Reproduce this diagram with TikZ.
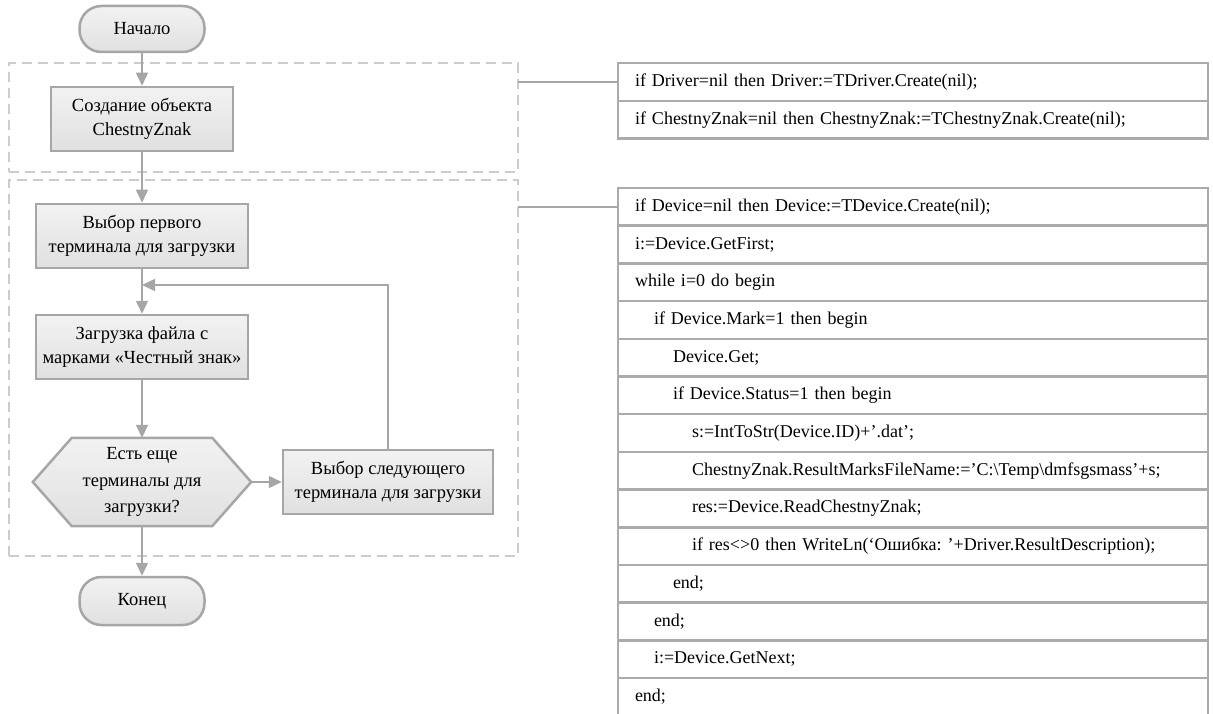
\documentclass[tikz,border=0pt]{standalone}
\usepackage{fontspec}
\setmainfont{Liberation Serif}
\usetikzlibrary{arrows.meta,shadings,backgrounds}
\frenchspacing
\definecolor{bord}{HTML}{A6A6A6}
\definecolor{dashc}{HTML}{CCCCCC}
\definecolor{tabc}{HTML}{ABABAB}
\definecolor{ftop}{HTML}{F2F2F2}
\definecolor{fbot}{HTML}{E0E0E0}
\tikzset{
  flow/.style={draw=bord, line width=2.5pt, top color=ftop, bottom color=fbot,
    font=\fontsize{18.5}{24}\selectfont, align=center, inner sep=0pt},
  procbox/.style={flow, rectangle, minimum width=#1, minimum height=64pt},
  term/.style={flow, rounded corners=22pt, minimum width=125pt, minimum height=46pt},
  dbox/.style={draw=dashc, line width=2pt, dash pattern=on 10pt off 6pt,
    minimum width=509pt, anchor=north west, inner sep=0pt, outer sep=0pt},
  arr/.style={draw=bord, line width=1.5pt, -{Triangle[length=13pt,width=12pt]}},
  conn/.style={draw=bord, line width=2pt},
  row/.style={draw=tabc, line width=2.5pt, anchor=north west, minimum height=37.7pt,
    text width=556pt, inner xsep=17pt, inner ysep=0pt, outer sep=0pt, align=left,
    font=\fontsize{18}{21}\selectfont},
}
\newcommand{\ind}[1]{\hspace*{#1\dimexpr 19pt\relax}}
\begin{document}
\begin{tikzpicture}[x=1pt,y=-1pt]
\useasboundingbox (0,0) rectangle (1213,714);
% dashed groups
\node[dbox, minimum height=109pt] (d1) at (9,63) {};
\node[dbox, minimum height=376pt] (d2) at (9,180) {};
% flowchart nodes
\node[term] (start) at (142,29) {Начало};
\node[procbox=182pt] (create) at (142,119) {Создание объекта\\ChestnyZnak};
\node[procbox=212pt] (first) at (142,236) {Выбор первого\\терминала для загрузки};
\node[procbox=212pt] (load) at (142,347) {Загрузка файла с\\марками «Честный знак»};
\node[inner sep=0pt, minimum width=218pt, minimum height=88pt,
      font=\fontsize{18.5}{26.5}\selectfont, align=center] (hex) at (142,482)
      {Есть еще\\терминалы для\\загрузки?};
\begin{scope}[on background layer]
  \draw[draw=bord, line width=2.5pt, top color=ftop, bottom color=fbot]
    (hex.west) -- ([xshift=39pt]hex.north west) -- ([xshift=-39pt]hex.north east)
    -- (hex.east) -- ([xshift=-39pt]hex.south east) -- ([xshift=39pt]hex.south west) -- cycle;
\end{scope}
\node[procbox=210pt] (next) at (388,482) {Выбор следующего\\терминала для загрузки};
\node[term, minimum height=48pt] (stop) at (142,601) {Конец};
\coordinate (loopc) at (142,285);
% arrows
\draw[arr] (start) -- (create);
\draw[arr] (create) -- (first);
\draw[arr] (first) -- (load);
\draw[arr] (load) -- (hex);
\draw[arr] (hex.east) -- (next.west);
\draw[arr] (next.north) |- (loopc);
\draw[arr] (hex.south) -- (stop.north);
% table 1
\node[row, minimum height=38pt] (ta) at (618,63) {if Driver=nil then Driver:=TDriver.Create(nil);};
\node[row] (tb) at (ta.south west) {if ChestnyZnak=nil then ChestnyZnak:=TChestnyZnak.Create(nil);};
% table 2
\node[row] (r1) at (618,188) {if Device=nil then Device:=TDevice.Create(nil);};
\node[row] (r2) at (r1.south west) {i:=Device.GetFirst;};
\node[row] (r3) at (r2.south west) {while i=0 do begin};
\node[row] (r4) at (r3.south west) {\ind{1}if Device.Mark=1 then begin};
\node[row] (r5) at (r4.south west) {\ind{2}Device.Get;};
\node[row] (r6) at (r5.south west) {\ind{2}if Device.Status=1 then begin};
\node[row] (r7) at (r6.south west) {\ind{3}s:=IntToStr(Device.ID)+’.dat’;};
\node[row] (r8) at (r7.south west) {\ind{3}ChestnyZnak.ResultMarksFileName:=’C:\textbackslash Temp\textbackslash dmfsgsmass’+s;};
\node[row] (r9) at (r8.south west) {\ind{3}res:=Device.ReadChestnyZnak;};
\node[row] (r10) at (r9.south west) {\ind{3}if res<>0 then WriteLn(‘Ошибка: ’+Driver.ResultDescription);};
\node[row] (r11) at (r10.south west) {\ind{2}end;};
\node[row] (r12) at (r11.south west) {\ind{1}end;};
\node[row] (r13) at (r12.south west) {\ind{1}i:=Device.GetNext;};
\node[row] (r14) at (r13.south west) {end;};
% connectors from groups to code
\draw[conn] (ta.west -| d1.east) -- (ta.west);
\draw[conn] (r1.west -| d2.east) -- (r1.west);
\end{tikzpicture}
\end{document}
